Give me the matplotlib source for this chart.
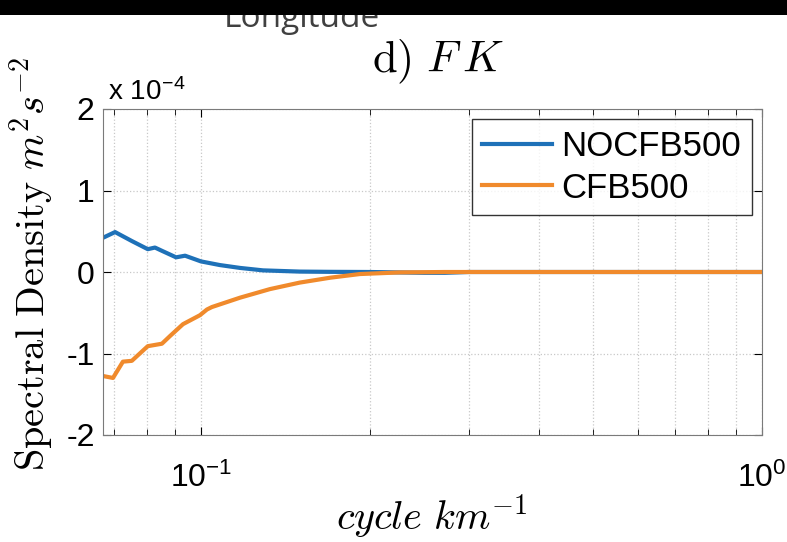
# Espectro FK: NOCFB500 vs CFB500
import numpy as np
import matplotlib
matplotlib.use('Agg')
import matplotlib.pyplot as plt
from matplotlib.patches import Rectangle

plt.rcParams['mathtext.fontset'] = 'cm'
plt.rcParams['font.family'] = ['Liberation Sans', 'DejaVu Sans']
plt.rcParams['axes.unicode_minus'] = False

# DATOS (densidad en unidades de 1e-4)
escala = 1e-4
f_nocfb = [0.0669, 0.0703, 0.0753, 0.0804, 0.0828, 0.0852, 0.0903, 0.0937,
           0.100, 0.1081, 0.1174, 0.129, 0.150, 0.170, 0.200, 0.250, 0.272,
           0.30, 0.40, 0.60, 0.80, 1.0]
s_nocfb = [0.42, 0.49, 0.38, 0.28, 0.30, 0.26, 0.18, 0.20,
           0.13, 0.085, 0.05, 0.02, 0.005, 0.002, 0.0, -0.01, -0.01,
           0.0, 0.0, 0.0, 0.0, 0.0]
f_cfb = [0.0669, 0.0697, 0.0726, 0.0753, 0.0804, 0.0852, 0.0881, 0.0929,
         0.0996, 0.1025, 0.1046, 0.1174, 0.1327, 0.150, 0.170, 0.192,
         0.2263, 0.272, 0.35, 0.50, 0.70, 1.0]
s_cfb = [-1.276, -1.30, -1.10, -1.09, -0.91, -0.88, -0.785, -0.64,
         -0.53, -0.46, -0.43, -0.315, -0.21, -0.13, -0.07, -0.025,
         -0.005, 0.0, 0.0, 0.0, 0.0, 0.0]
yticks = [-2, -1, 0, 1, 2]
etiquetas = ['NOCFB500', 'CFB500']

fig = plt.figure(figsize=(7.87, 5.42), dpi=100)
ax = fig.add_axes([103/787, 1-435/542, (762-103)/787, (435-109)/542])

ax.semilogx(f_nocfb, np.array(s_nocfb)*escala, color='#1E71B8', lw=3, label=etiquetas[0])
ax.semilogx(f_cfb, np.array(s_cfb)*escala, color='#F08A2C', lw=3, label=etiquetas[1])

ax.set_xlim(0.0669, 1.0)
ax.set_ylim(-2*escala, 2*escala)
ax.set_yticks(np.array(yticks)*escala)
ax.set_yticklabels([str(t) for t in yticks])
ax.grid(True, which='major', ls=':', color='#c8c8c8', lw=0.9)
ax.grid(True, which='minor', axis='x', ls=':', color='#c8c8c8', lw=0.9)
ax.tick_params(which='both', direction='in', top=True, right=True, labelsize=23)
ax.tick_params(axis='x', pad=20)
ax.tick_params(axis='y', pad=6)
ax.tick_params(which='major', length=6)
ax.tick_params(which='minor', length=4)
for s in ax.spines.values():
    s.set_color('#7a7a7a')

leg = ax.legend(loc='upper right', fontsize=25, fancybox=False, edgecolor='k',
                handlelength=2.0, handletextpad=0.28, borderaxespad=0.3,
                labelspacing=0.25, borderpad=0.3)
leg.get_frame().set_linewidth(1.0)

# textos
fig.text(108/787, 1-100/542, r'x 10$^{\mathdefault{-4}}$', fontsize=20, va='baseline')
fig.text(438/787, 1-72/542, r'$\mathrm{d)}\ F\,K$', fontsize=32, ha='center', va='baseline')
fig.text(32/787, 1-264/542, r'$\mathrm{Spectral\ Density}\ m^2s^{-2}$', fontsize=29,
         rotation=90, ha='center', va='center')
fig.text(432/787, 1-530/542, r'$cycle\ km^{-1}$', fontsize=29, ha='center', va='baseline')

# etiqueta cortada de arriba
fig.text(302/787, 1-27/542, 'Longitude', fontsize=24, color='#404040',
         family='Open Sans', ha='center', va='baseline')
fig.patches.append(Rectangle((0, 1-15/542), 1, 15/542, transform=fig.transFigure,
                             facecolor='k', edgecolor='none', zorder=10))

fig.savefig('out.png', dpi=100)
